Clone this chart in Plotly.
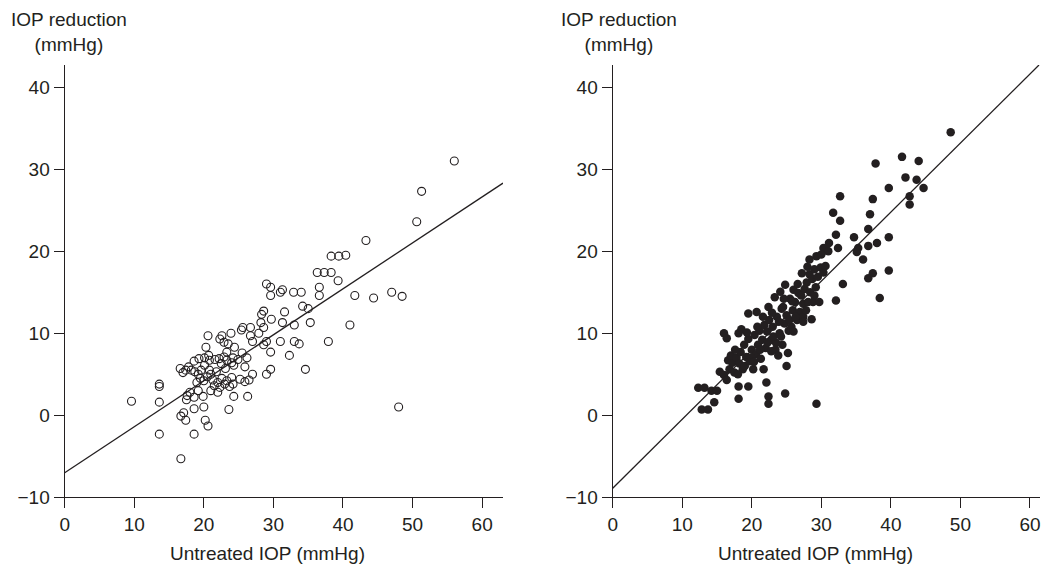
import plotly.graph_objects as go

# ---------------- data ----------------
left_x = [9.6, 13.6, 13.6, 13.6, 13.6, 16.7, 18.6, 16.7, 17.1, 17.4, 18.6, 20.2, 20.6, 20.0, 23.6,
          16.6, 17.0, 17.4, 17.8, 17.6, 18.0, 18.6, 19.2, 19.9, 18.6, 19.3, 20.1, 20.8, 21.6, 22.2,
          22.9, 23.3, 18.7, 19.2, 19.6, 20.1, 20.8, 19.5, 20.0, 20.5, 21.3, 21.5, 22.0, 22.3, 22.6,
          23.0, 23.3, 23.7, 24.0, 24.2, 25.2, 25.9, 21.0, 22.0, 22.5, 23.1, 24.0, 24.3, 24.2, 24.9,
          25.9, 24.3, 26.3, 20.3, 20.6, 22.3, 22.6, 23.9, 22.9, 23.5, 24.4, 25.4, 25.6, 26.7, 26.7,
          27.0, 27.9, 28.2, 28.6, 28.3, 28.6, 29.7, 28.6, 29.0, 29.6, 27.0, 29.0, 29.6, 31.0, 31.3,
          31.6, 33.0, 32.3, 33.0, 33.7, 34.6, 34.2, 35.0, 35.3, 29.0, 29.6, 29.6, 31.0, 31.3, 32.9,
          34.0, 36.3, 37.3, 38.3, 39.3, 36.6, 36.6, 38.3, 39.4, 40.4, 37.9, 41.0, 41.7, 44.4, 43.3,
          47.0, 48.5, 48.0, 50.6, 51.3, 56.0, 21.0, 21.8, 25.5, 26.2, 26.5, 19.0, 18.2, 17.5, 20.7,
          23.3]
left_y = [1.7, 3.8, 3.5, 1.6, -2.3, -5.3, -2.3, -0.1, 0.3, -0.6, 0.8, -0.6, -1.3, 1.0, 0.7,
          5.7, 5.2, 5.5, 5.9, 2.4, 2.8, 2.2, 3.0, 2.3, 6.6, 6.9, 7.0, 6.7, 6.8, 6.9,
          7.1, 7.7, 5.3, 5.0, 5.5, 6.1, 5.5, 4.5, 4.2, 4.7, 4.3, 3.6, 4.0, 3.4, 4.5,
          3.8, 4.2, 3.5, 4.6, 3.8, 4.4, 4.1, 3.0, 2.8, 6.3, 5.7, 6.4, 6.1, 7.0, 6.8,
          5.9, 2.3, 2.3, 8.3, 9.7, 9.3, 9.7, 10.0, 8.9, 8.7, 8.3, 10.4, 10.7, 10.7, 9.7,
          9.0, 10.0, 11.3, 10.7, 12.3, 12.7, 11.7, 8.6, 9.0, 7.7, 5.0, 5.0, 5.6, 9.0, 11.3,
          12.6, 11.0, 7.3, 9.0, 8.7, 5.6, 13.3, 13.0, 11.3, 16.0, 15.6, 14.6, 15.0, 15.3, 15.0,
          15.0, 17.4, 17.4, 17.4, 16.4, 15.6, 14.6, 19.4, 19.4, 19.5, 9.0, 11.0, 14.6, 14.3, 21.3,
          15.0, 14.5, 1.0, 23.6, 27.3, 31.0, 5.0, 5.3, 7.6, 7.0, 4.3, 4.0, 5.5, 1.9, 7.3,
          6.7]

right_x = [12.3, 13.2, 14.2, 15.0, 14.6, 12.8, 13.7, 16.0, 16.4, 16.6, 15.4, 16.0, 16.4, 18.1, 18.5,
           18.1, 19.5, 18.1, 19.5, 20.7, 21.7, 22.1, 22.4, 22.4, 24.8, 25.0, 29.3,
           16.8, 17.2, 17.5, 17.0, 17.8, 18.2, 18.4, 18.7, 18.9, 19.2, 19.0, 19.5, 19.7, 20.0, 20.2,
           20.4, 20.6, 20.9, 21.1, 21.3, 21.5, 21.8, 22.0, 22.2,
           22.5, 22.4, 22.8, 23.0, 23.3, 23.4, 23.6, 23.8, 24.0, 24.1, 24.3, 24.5, 24.4, 24.7, 24.8,
           25.0, 25.2, 25.3, 25.5, 25.7, 25.9, 26.0, 26.0, 26.2, 26.5, 26.7, 26.9, 27.2, 27.4, 27.4,
           27.4, 22.8, 23.5,
           28.0, 28.1, 28.8, 29.7, 28.6, 27.9, 28.3, 28.7, 29.0, 29.3, 29.5, 29.9, 30.3, 30.6, 30.8,
           27.6, 28.4, 29.2,
           31.1, 30.3, 31.0, 32.4, 31.7, 32.7, 32.7, 32.1, 34.7, 35.3, 35.1, 36.0, 36.75, 37.0, 36.75,
           37.4, 37.8, 38.0, 39.7, 39.7, 39.7, 37.4, 36.75, 33.1, 32.1, 38.4, 41.6, 42.1, 42.7, 42.7,
           43.7, 44.0, 44.7, 48.6,
           17.6, 18.0, 19.3, 19.9, 20.3, 20.8, 21.2, 21.6, 22.3, 22.9, 23.1, 23.9, 24.2, 24.6, 25.4,
           25.8, 26.3, 26.6, 27.1, 27.8, 28.3, 29.0, 30.0]
right_y = [3.35, 3.35, 3.0, 3.0, 1.6, 0.7, 0.7, 10.0, 9.4, 6.7, 5.3, 4.9, 4.3, 10.0, 10.5,
           3.5, 3.5, 2.0, 12.4, 12.6, 5.6, 4.0, 2.3, 1.4, 2.65, 6.0, 1.4,
           5.6, 6.4, 5.2, 7.3, 7.0, 6.3, 7.7, 5.6, 8.6, 7.1, 6.0, 9.3, 6.6, 8.0, 5.6,
           9.8, 7.4, 8.6, 10.3, 6.9, 9.2, 11.0, 8.2, 10.2,
           11.6, 13.2, 9.2, 10.8, 14.4, 8.0, 12.0, 7.3, 10.0, 15.05, 13.0, 13.2, 8.6, 11.2, 15.9,
           12.2, 7.6, 10.3, 14.2, 10.8, 12.8, 10.2, 15.3, 13.8, 11.6, 14.9, 12.6, 17.3, 12.0, 11.4,
           13.6, 7.8, 8.8,
           18.1, 13.8, 13.8, 13.8, 11.7, 16.2, 17.2, 16.6, 17.8, 19.4, 16.9, 18.0, 17.4, 18.2, 20.1,
           15.4, 15.0, 15.6,
           21.0, 20.4, 20.0, 20.4, 24.7, 26.7, 23.7, 22.0, 21.7, 20.4, 19.9, 19.0, 20.65, 24.5, 22.7,
           26.35, 30.7, 21.0, 21.7, 27.7, 17.65, 17.3, 16.7, 16.0, 14.0, 14.3, 31.5, 29.0, 26.7, 25.7,
           28.7, 31.0, 27.7, 34.5,
           8.0, 5.0, 10.1, 7.0, 6.5, 10.8, 8.0, 12.0, 8.9, 12.5, 9.6, 11.4, 9.6, 14.2, 11.6,
           13.9, 12.0, 16.0, 14.6, 12.8, 19.0, 14.6, 19.6]

# regression line end points (data units)
left_fit_x = [0, 63]
left_fit_y = [-7.0, 28.3]
right_fit_x = [0, 61.3]
right_fit_y = [-8.9, 42.7]

x_ticks = [0, 10, 20, 30, 40, 50, 60]
y_ticks = [-10, 0, 10, 20, 30, 40]
y_tick_text = ["\u221210", "0", "10", "20", "30", "40"]

# ---------------- figure ----------------
INK = "#231f20"
FONT = "Liberation Sans, Arial, sans-serif"
FS = 19

fig = go.Figure()
fig.add_trace(go.Scatter(x=left_fit_x, y=left_fit_y, mode="lines",
                         line=dict(color=INK, width=1.3), xaxis="x", yaxis="y",
                         showlegend=False, hoverinfo="skip"))
fig.add_trace(go.Scatter(x=left_x, y=left_y, mode="markers",
                         marker=dict(symbol="circle-open", size=8, color=INK,
                                     line=dict(width=1.1, color=INK)),
                         xaxis="x", yaxis="y", showlegend=False))
fig.add_trace(go.Scatter(x=right_fit_x, y=right_fit_y, mode="lines",
                         line=dict(color=INK, width=1.3), xaxis="x2", yaxis="y2",
                         showlegend=False, hoverinfo="skip"))
fig.add_trace(go.Scatter(x=right_x, y=right_y, mode="markers",
                         marker=dict(symbol="circle", size=8.5, color=INK,
                                     line=dict(width=0)),
                         xaxis="x2", yaxis="y2", showlegend=False))

W, H = 1045, 567
axis_common = dict(showline=True, linecolor=INK, linewidth=1.3, ticks="outside",
                   ticklen=10, tickwidth=1.3, tickcolor=INK, showgrid=False,
                   zeroline=False, automargin=False,
                   tickfont=dict(family=FONT, size=FS, color=INK))

y_dom = [(H - 497.3) / H, (H - 65) / H]

fig.update_layout(
    width=W, height=H,
    margin=dict(l=0, r=0, t=0, b=0),
    paper_bgcolor="white", plot_bgcolor="white",
    font=dict(family=FONT, size=FS, color=INK),
    xaxis=dict(domain=[64.7 / W, 503 / W], range=[0, 63], tickvals=x_ticks,
               anchor="y", **axis_common),
    yaxis=dict(domain=y_dom, range=[-10, 42.7], tickvals=y_ticks, ticktext=y_tick_text,
               anchor="x", **axis_common),
    xaxis2=dict(domain=[612.7 / W, 1040.4 / W], range=[0, 61.5], tickvals=x_ticks,
                anchor="y2", **axis_common),
    yaxis2=dict(domain=y_dom, range=[-10, 42.7], tickvals=y_ticks, ticktext=y_tick_text,
                anchor="x2", **axis_common),
    annotations=[
        dict(text="Untreated IOP (mmHg)", x=267 / W, y=(H - 553) / H, xref="paper",
             yref="paper", xanchor="center", yanchor="middle", showarrow=False,
             font=dict(family=FONT, size=FS, color=INK)),
        dict(text="Untreated IOP (mmHg)", x=815 / W, y=(H - 553) / H, xref="paper",
             yref="paper", xanchor="center", yanchor="middle", showarrow=False,
             font=dict(family=FONT, size=FS, color=INK)),
        dict(text="IOP reduction<br>(mmHg)", x=69 / W, y=(H - 32) / H, xref="paper",
             yref="paper", xanchor="center", yanchor="middle", showarrow=False,
             font=dict(family=FONT, size=FS, color=INK)),
        dict(text="IOP reduction<br>(mmHg)", x=619 / W, y=(H - 32) / H, xref="paper",
             yref="paper", xanchor="center", yanchor="middle", showarrow=False,
             font=dict(family=FONT, size=FS, color=INK)),
    ],
)

fig.write_html("out.html",
               config={"displayModeBar": False},
               post_script="document.body.style.margin='0px';"
                           "document.body.style.overflow='hidden';")
